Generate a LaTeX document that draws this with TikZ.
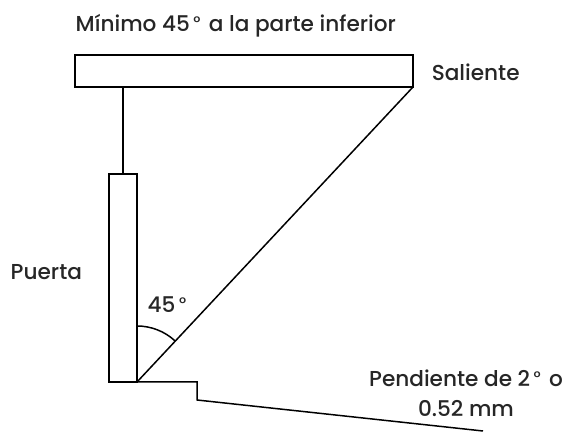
\documentclass[tikz,border=0pt]{standalone}
\usepackage{fontspec}
\setmainfont{Poppins Medium}
\usetikzlibrary{calc}
\newcommand{\grado}{\kern2pt\raisebox{1.8pt}{\fontsize{9.5}{10}\selectfont °}\kern1.5pt}

\begin{document}
\begin{tikzpicture}[line width = 0.85pt, line join = miter,
                        pieza/.style = {rectangle, draw, inner sep = 0pt, outer sep = 0pt},
                        rotulo/.style = {inner sep = 0pt, font = \fontsize{12.3}{16.8}\selectfont, text = black!85, align = center}]
      \useasboundingbox (0, 0) rectangle (11.38, 8.64);
      \node [pieza, minimum width = 6.76cm, minimum height = 0.64cm] (saliente) at (4.88, 7.22){};
      \node [pieza, minimum width = 0.56cm, minimum height = 4.16cm] (puerta) at (2.46, 3.08){};
      \coordinate (esquina) at (puerta.south east);
      \coordinate (escalon) at (3.94, 1.00);
      \coordinate (escalonb) at (3.94, 0.64);
      \coordinate (pendiente) at (9.66, 0.02);
      \draw (puerta.north) -- (puerta.north |- saliente.south);
      \draw (esquina) -- (saliente.south east);
      \draw (esquina) -- (escalon) -- (escalonb) -- (pendiente);
      \draw ($(esquina)+(0, 1.12)$) arc (90:47:1.12);
      \node [rotulo, anchor = west] (titulo) at (1.50, 8.13){Mínimo 45\grado{} a la parte inferior};
      \node [rotulo, anchor = west] (lsaliente) at (8.62, 7.20){Saliente};
      \node [rotulo, anchor = west] (lpuerta) at (0.20, 3.20){Puerta};
      \node [rotulo, anchor = west] (langulo) at (2.94, 2.54){45\grado};
      \node [rotulo, anchor = center] (lpendiente) at (9.32, 0.78){Pendiente de 2\grado{} o\\0.52 mm};
    \end{tikzpicture}
\end{document}
